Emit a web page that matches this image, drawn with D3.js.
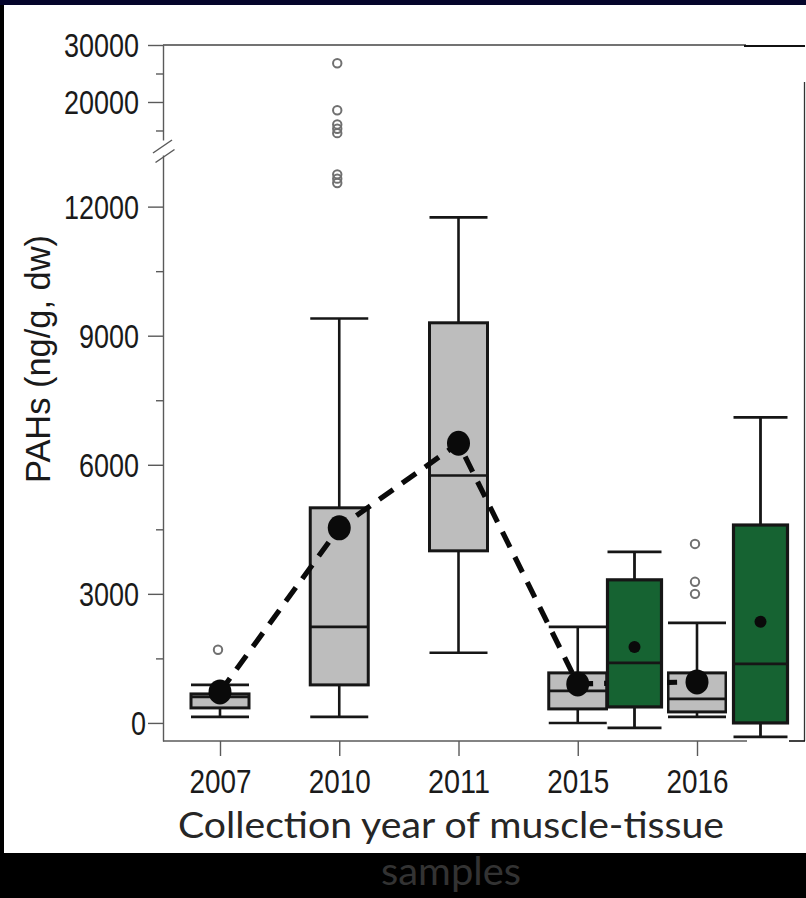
<!DOCTYPE html>
<html>
<head>
<meta charset="utf-8">
<script src="https://cdn.jsdelivr.net/npm/d3@7/dist/d3.min.js"></script>
<style>
  html, body { margin: 0; padding: 0; background: #000; }
  svg { display: block; }
</style>
</head>
<body>
<script>
// ---------------- data ----------------
const years = ["2007", "2010", "2011", "2015", "2016"];
const grayLow    = [140, 140, 1630, 0, 140];
const grayQ1     = [349, 884, 4000, 326, 256];
const grayMedian = [605, 2233, 5750, 744, 558];
const grayQ3     = [674, 5000, 9300, 1163, 1163];
const grayHigh   = [884, 9400, 11750, 2233, 2326];
const grayMean   = [720, 4535, 6500, 907, 953];
// outliers: [year, value]
const grayOutliers = [
  ["2007", 1700],
  ["2010", 26800], ["2010", 18550], ["2010", 16060], ["2010", 15300], ["2010", 14530],
  ["2010", 12750], ["2010", 12650], ["2010", 12550],
  ["2016", 4160], ["2016", 3280], ["2016", 3000]
];
const greenYears  = ["2015", "2016"];
const greenLow    = [-116, -326];
const greenQ1     = [372, 0];
const greenMedian = [1395, 1372];
const greenQ3     = [3326, 4600];
const greenHigh   = [3977, 7100];
const greenMean   = [1767, 2349];

const lowerTicks = [0, 3000, 6000, 9000, 12000];
const lowerMinor = [1500, 4500, 7500, 10500];
const upperTicks = [20000, 30000];
const upperMinor = [15000, 25000];
const yTitle = "PAHs (ng/g, dw)";
const xTitle1 = "Collection year of muscle-tissue";
const xTitle2 = "samples";

// ---------------- layout ----------------
const W = 806, H = 898;
const svg = d3.select("body").append("svg").attr("width", W).attr("height", H);

// background frame
svg.append("rect").attr("x", 0).attr("y", 0).attr("width", W).attr("height", H).attr("fill", "#000");
svg.append("rect").attr("x", 0).attr("y", 0).attr("width", W).attr("height", 5).attr("fill", "#05052b");
svg.append("rect").attr("x", 4).attr("y", 5).attr("width", W - 4).attr("height", 848).attr("fill", "#fff");

const axisX = 163, axisBottomY = 741;
const yLow = d3.scaleLinear().domain([-420, 13200]).range([741, 155]);
const yUp  = d3.scaleLinear().domain([13330, 30000]).range([140, 45]);
const x = d3.scalePoint().domain(years).range([220, 697]);
const xg = d3.scalePoint().domain(greenYears).range([634.5, 760.5]);

const axisColor = "#5a5a5a";
const numFont = "'Liberation Sans', Arial, sans-serif";

function styleAxis(g) {
  g.selectAll("path.domain").attr("stroke", axisColor).attr("stroke-width", 1.4);
  g.selectAll(".tick line").attr("stroke", axisColor).attr("stroke-width", 1.4);
}
function styleYLabels(g) {
  g.selectAll(".tick text")
    .attr("font-family", numFont)
    .attr("font-size", 33)
    .attr("fill", "#1a1a1a")
    .attr("x", d => d === 0 ? -17 : -24)
    .attr("dy", "0.36em")
    .attr("textLength", d => String(d).length * 15)
    .attr("lengthAdjust", "spacingAndGlyphs");
}
// ---- y axis lower ----
const gLow = svg.append("g").attr("transform", `translate(${axisX},0)`)
  .call(d3.axisLeft(yLow).tickValues(lowerTicks).tickSize(15).tickSizeOuter(0).tickFormat(d3.format("d")));
styleAxis(gLow); styleYLabels(gLow);
const gLowMinor = svg.append("g").attr("transform", `translate(${axisX},0)`)
  .call(d3.axisLeft(yLow).tickValues(lowerMinor).tickSize(7).tickFormat(""));
gLowMinor.select("path.domain").remove();
styleAxis(gLowMinor);

// ---- y axis upper ----
const gUp = svg.append("g").attr("transform", `translate(${axisX},0)`)
  .call(d3.axisLeft(yUp).tickValues(upperTicks).tickSize(15).tickSizeOuter(0).tickFormat(d3.format("d")));
styleAxis(gUp); styleYLabels(gUp);
const gUpMinor = svg.append("g").attr("transform", `translate(${axisX},0)`)
  .call(d3.axisLeft(yUp).tickValues(upperMinor).tickSize(7).tickFormat(""));
gUpMinor.select("path.domain").remove();
styleAxis(gUpMinor);

// break marks
[[0, 0], [2.5, 9.5]].forEach(([dx, dy]) => {
  svg.append("line")
    .attr("x1", 153 + dx).attr("y1", 153 + dy)
    .attr("x2", 172 + dx).attr("y2", 140 + dy)
    .attr("stroke", axisColor).attr("stroke-width", 1.5);
});

// top frame line
svg.append("line").attr("x1", axisX).attr("x2", 746).attr("y1", yUp(30000)).attr("y2", yUp(30000))
  .attr("stroke", "#444").attr("stroke-width", 1.3);
svg.append("line").attr("x1", 744).attr("x2", 805).attr("y1", 46).attr("y2", 46)
  .attr("stroke", "#111").attr("stroke-width", 2);
// right frame line
svg.append("line").attr("x1", 804.5).attr("x2", 804.5).attr("y1", 82).attr("y2", axisBottomY)
  .attr("stroke", "#333").attr("stroke-width", 1.3);
svg.append("line").attr("x1", 789).attr("x2", 805).attr("y1", axisBottomY).attr("y2", axisBottomY)
  .attr("stroke", "#111").attr("stroke-width", 1.6);

// ---- x axis ----
svg.append("line").attr("x1", axisX).attr("x2", 747).attr("y1", axisBottomY).attr("y2", axisBottomY)
  .attr("stroke", axisColor).attr("stroke-width", 1.4);
const gX = svg.append("g").attr("transform", `translate(0,${axisBottomY})`)
  .call(d3.axisBottom(x).tickSize(15).tickSizeOuter(0));
gX.select("path.domain").remove();
styleAxis(gX);
gX.selectAll(".tick text")
  .attr("font-family", numFont)
  .attr("font-size", 33)
  .attr("fill", "#1a1a1a")
  .attr("y", 52).attr("dy", null)
  .attr("textLength", 62)
  .attr("lengthAdjust", "spacingAndGlyphs");

// ---- titles ----
svg.append("text")
  .attr("transform", "translate(50,359) rotate(-90)")
  .attr("text-anchor", "middle")
  .attr("font-family", numFont)
  .attr("font-size", 35)
  .attr("fill", "#1a1a1a")
  .attr("textLength", 248).attr("lengthAdjust", "spacingAndGlyphs")
  .text(yTitle);

const titleFont = "Lato, 'Open Sans', 'Noto Sans', sans-serif";
svg.append("text")
  .attr("x", 451).attr("y", 838)
  .attr("text-anchor", "middle")
  .attr("font-family", titleFont).attr("font-size", 37)
  .attr("fill", "#262626")
  .attr("textLength", 546).attr("lengthAdjust", "spacingAndGlyphs")
  .text(xTitle1);
svg.append("text")
  .attr("x", 451).attr("y", 885)
  .attr("text-anchor", "middle")
  .attr("font-family", titleFont).attr("font-size", 38)
  .attr("fill", "#333")
  .attr("textLength", 140).attr("lengthAdjust", "spacingAndGlyphs")
  .text(xTitle2);

// ---- boxes ----
function drawBox(g, cx, w, lo, q1, med, q3, hi, fill, sw) {
  const stroke = "#161616";
  g.append("line").attr("x1", cx).attr("x2", cx).attr("y1", yLow(hi)).attr("y2", yLow(q3))
    .attr("stroke", stroke).attr("stroke-width", sw);
  g.append("line").attr("x1", cx).attr("x2", cx).attr("y1", yLow(q1)).attr("y2", yLow(lo))
    .attr("stroke", stroke).attr("stroke-width", sw);
  [hi, lo].forEach(v => {
    g.append("line").attr("x1", cx - w / 2).attr("x2", cx + w / 2).attr("y1", yLow(v)).attr("y2", yLow(v))
      .attr("stroke", stroke).attr("stroke-width", sw);
  });
  g.append("rect").attr("x", cx - w / 2).attr("y", yLow(q3)).attr("width", w).attr("height", yLow(q1) - yLow(q3))
    .attr("fill", fill).attr("stroke", stroke).attr("stroke-width", sw + 0.4);
  g.append("line").attr("x1", cx - w / 2).attr("x2", cx + w / 2).attr("y1", yLow(med)).attr("y2", yLow(med))
    .attr("stroke", stroke).attr("stroke-width", sw);
}

const gBoxes = svg.append("g");
years.forEach((yr, i) => {
  drawBox(gBoxes, x(yr), 58, grayLow[i], grayQ1[i], grayMedian[i], grayQ3[i], grayHigh[i], "#bdbdbd", 2.6);
});

// outliers
svg.append("g").selectAll("circle").data(grayOutliers).join("circle")
  .attr("cx", d => x(d[0]) - 2)
  .attr("cy", d => d[1] > 13200 ? yUp(d[1]) : yLow(d[1]))
  .attr("r", 4.2)
  .attr("fill", "none").attr("stroke", "#707070").attr("stroke-width", 2);

// dashed mean line
const meanPts = years.map((yr, i) => [x(yr), yLow(grayMean[i])]);
svg.append("path")
  .attr("d", d3.line()(meanPts))
  .attr("fill", "none").attr("stroke", "#0a0a0a").attr("stroke-width", 5.2)
  .attr("stroke-dasharray", "17,11");
svg.append("g").selectAll("ellipse").data(meanPts).join("ellipse")
  .attr("cx", d => d[0]).attr("cy", d => d[1]).attr("rx", 11.5).attr("ry", 12.5)
  .attr("fill", "#0a0a0a");

// ---- green overlay (pasted panels with white background) ----
const overlays = [[608, 540, 59, 191], [727, 405, 63, 334]];
overlays.forEach(([ox, oy, ow, oh]) => {
  svg.append("rect").attr("x", ox).attr("y", oy).attr("width", ow).attr("height", oh).attr("fill", "#fff");
});
const gGreen = svg.append("g");
greenYears.forEach((yr, i) => {
  drawBox(gGreen, xg(yr), 54, greenLow[i], greenQ1[i], greenMedian[i], greenQ3[i], greenHigh[i], "#166332", 2.8);
});
gGreen.selectAll("circle.gm").data(greenYears).join("circle")
  .attr("class", "gm")
  .attr("cx", d => xg(d)).attr("cy", (d, i) => yLow(greenMean[i]))
  .attr("r", 6).attr("fill", "#0a0a0a");
</script>
</body>
</html>
